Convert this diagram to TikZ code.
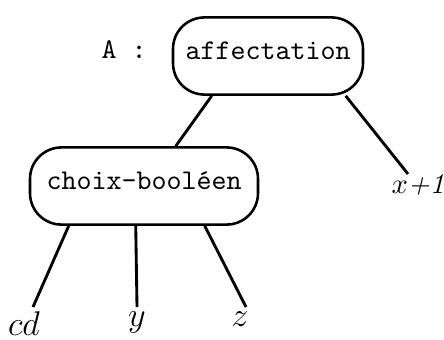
\documentclass[tikz,border=0pt]{standalone}
\usetikzlibrary{calc}
\begin{document}
\begin{tikzpicture}[x=0.35pt, y=-0.35pt,
  box/.style={draw, line width=0.9pt, rounded corners=11pt, font=\ttfamily, minimum height=27pt, inner sep=0pt, text depth=3.5pt},
  leaf/.style={font=\large, inner sep=0pt, anchor=north}]
  \useasboundingbox (0,0) rectangle (444,339);
  \node [box, minimum width=66.5pt] (aff) at (268,56) {affectation};
  \node [font=\ttfamily] (A) at (124,50) {A :};
  \node [box, minimum width=79.8pt] (choix) at (144,186) {choix-booléen};
  \node [leaf, font=\normalsize] (xp) at (418,174) {$x$\textit{+1}};
  \node [leaf] (cd) at (24,311) {$cd$};
  \node [leaf] (y) at (137,311) {$y$};
  \node [leaf] (z) at (240,311) {$z$};
  \draw [solid, line width=1pt] ($(aff.south west)+(40,0)$) -- ($(choix.north west)+(147,0)$);
  \draw [solid, line width=1pt] ($(aff.south west)+(174,0)$) -- ($(xp.north)+(-10,0)$);
  \draw [solid, line width=1pt] ($(choix.south west)+(40,0)$) -- ($(cd.north)+(9,-4)$);
  \draw [solid, line width=1pt] ($(choix.south west)+(107,0)$) -- ($(y.north)+(0,-4)$);
  \draw [solid, line width=1pt] ($(choix.south west)+(176,0)$) -- ($(z.north)+(6,-4)$);
\end{tikzpicture}
\end{document}
